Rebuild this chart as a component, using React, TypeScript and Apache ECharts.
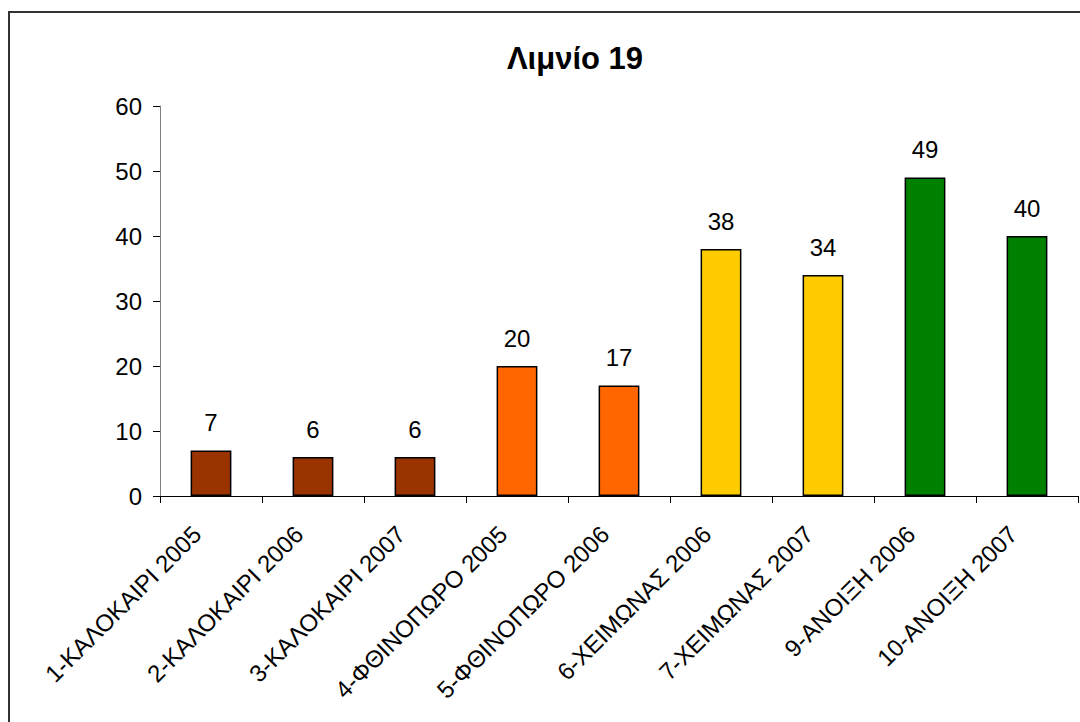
import React, { useEffect, useRef } from "react";
import * as echarts from "echarts";

const title = "Λιμνίο 19";
const categories = [
  "1-ΚΑΛΟΚΑΙΡΙ 2005",
  "2-ΚΑΛΟΚΑΙΡΙ 2006",
  "3-ΚΑΛΟΚΑΙΡΙ 2007",
  "4-ΦΘΙΝΟΠΩΡΟ 2005",
  "5-ΦΘΙΝΟΠΩΡΟ 2006",
  "6-ΧΕΙΜΩΝΑΣ 2006",
  "7-ΧΕΙΜΩΝΑΣ 2007",
  "9-ΑΝΟΙΞΗ 2006",
  "10-ΑΝΟΙΞΗ 2007",
];
const values = [7, 6, 6, 20, 17, 38, 34, 49, 40];
const barColors = [
  "#993300", "#993300", "#993300",
  "#FF6600", "#FF6600",
  "#FFCC00", "#FFCC00",
  "#008000", "#008000",
];
const yTicks = { min: 0, max: 60, interval: 10 };

const FONT = "Liberation Sans, Arial, sans-serif";

export default function App() {
  const ref = useRef<HTMLDivElement>(null);
  useEffect(() => {
    if (!ref.current) return;
    const chart = echarts.init(ref.current, null, { renderer: "svg" });
    chart.setOption({
      animation: false,
      backgroundColor: "#ffffff",
      textStyle: { fontFamily: FONT },
      title: {
        text: title,
        left: 570,
        top: 38,
        textAlign: "center",
        textStyle: { fontFamily: FONT, fontWeight: "bold", fontSize: 31, color: "#000" },
      },
      graphic: [
        {
          type: "rect",
          shape: { x: 9, y: 12, width: 1200, height: 800 },
          style: { fill: "none", stroke: "#333333", lineWidth: 2 },
          silent: true,
        },
      ],
      grid: { left: 160, right: 2, top: 106, bottom: 226, containLabel: false },
      xAxis: {
        type: "category",
        data: categories,
        axisLine: { lineStyle: { color: "#000", width: 1 } },
        axisTick: { show: true, length: 7, lineStyle: { color: "#000" } },
        axisLabel: {
          rotate: 45,
          interval: 0,
          margin: 20,
          padding: [0, 20, 0, 0],
          fontSize: 24,
          color: "#000",
          fontFamily: FONT,
        },
      },
      yAxis: {
        type: "value",
        min: yTicks.min,
        max: yTicks.max,
        interval: yTicks.interval,
        splitLine: { show: false },
        axisLine: { show: true, lineStyle: { color: "#808080", width: 1 } },
        axisTick: { show: true, length: 7, lineStyle: { color: "#000" } },
        axisLabel: { margin: 18, fontSize: 24, color: "#000", fontFamily: FONT },
      },
      series: [
        {
          type: "bar",
          barWidth: "40%",
          data: values.map((v, i) => ({
            value: v,
            itemStyle: { color: barColors[i], borderColor: "#000", borderWidth: 1.5 },
          })),
          label: {
            show: true,
            position: "top",
            distance: 16,
            fontSize: 24,
            color: "#000",
            fontFamily: FONT,
          },
        },
      ],
    });
    return () => chart.dispose();
  }, []);
  return (
    <div
      ref={ref}
      style={{ position: "absolute", left: 0, top: 0, width: 1080, height: 722 }}
    />
  );
}
